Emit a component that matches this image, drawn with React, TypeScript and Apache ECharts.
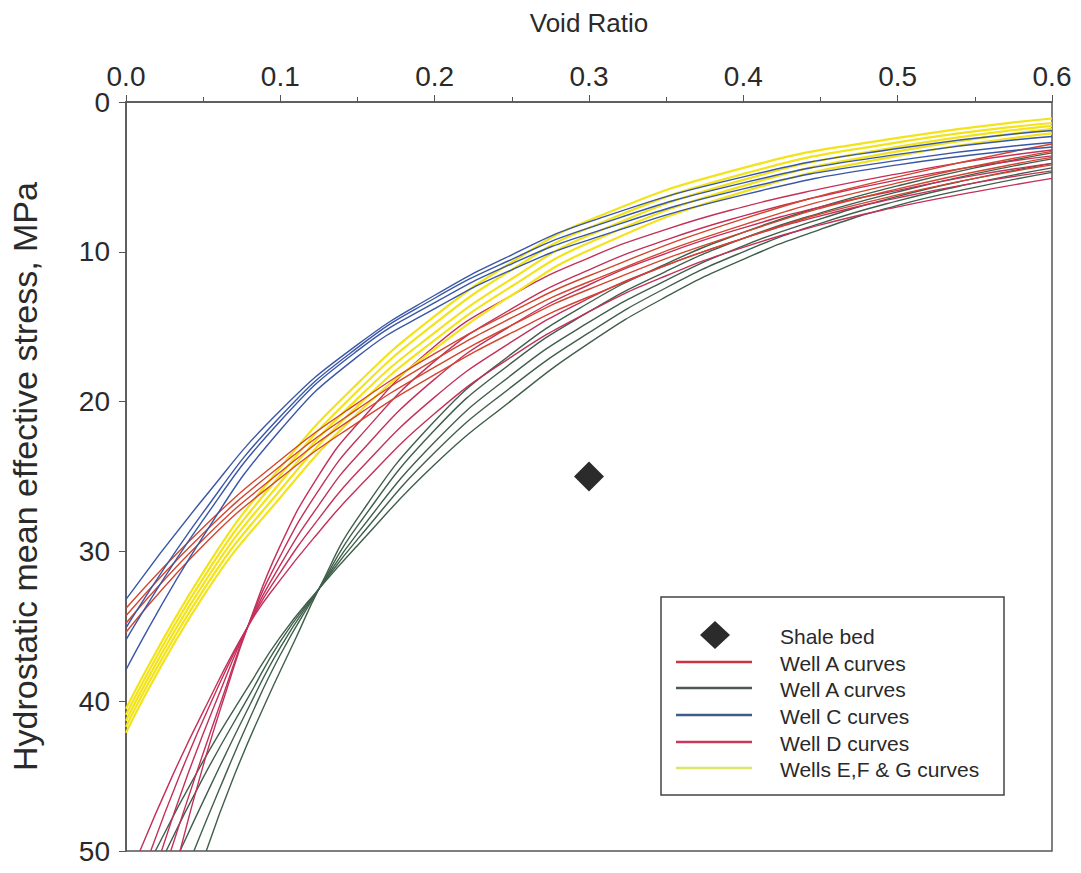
import React, { useEffect, useRef } from "react";
import * as echarts from "echarts";

// ---- data: [void ratio, stress MPa] ----
const wellARed: number[][][] = [
  [[0, 33.8], [0.05, 28.4], [0.1, 23.9], [0.15, 20.1], [0.2, 16.8], [0.25, 14.0], [0.3, 11.6], [0.4, 7.8], [0.5, 5.0], [0.6, 2.8]],
  [[0, 34.3], [0.05, 28.8], [0.1, 24.3], [0.15, 20.5], [0.2, 17.2], [0.25, 14.4], [0.3, 12.0], [0.4, 8.2], [0.5, 5.4], [0.6, 3.3]],
  [[0, 34.8], [0.05, 29.2], [0.1, 24.7], [0.15, 20.9], [0.2, 17.7], [0.25, 14.9], [0.3, 12.5], [0.4, 8.7], [0.5, 5.8], [0.6, 3.7]],
  [[0, 35.4], [0.05, 29.6], [0.1, 25.1], [0.15, 21.4], [0.2, 18.2], [0.25, 15.4], [0.3, 13.0], [0.4, 9.1], [0.5, 6.2], [0.6, 4.2]],
];

const wellAGreen: number[][][] = [
  [[0.019, 50], [0.05, 44.0], [0.08, 38.9], [0.1, 35.7], [0.125, 32.5], [0.15, 29.6], [0.2, 24.2], [0.25, 19.9], [0.3, 16.1], [0.35, 13.0], [0.4, 10.5], [0.45, 8.5], [0.5, 6.9], [0.55, 5.7], [0.6, 4.7]],
  [[0.026, 50], [0.05, 45.1], [0.08, 39.6], [0.1, 36.0], [0.125, 32.5], [0.15, 29.2], [0.2, 23.4], [0.25, 19.0], [0.3, 15.4], [0.35, 12.4], [0.4, 10.0], [0.45, 8.1], [0.5, 6.6], [0.55, 5.4], [0.6, 4.4]],
  [[0.035, 50], [0.055, 45.6], [0.08, 40.3], [0.1, 36.4], [0.125, 32.5], [0.15, 28.8], [0.2, 22.7], [0.25, 18.2], [0.3, 14.7], [0.35, 11.9], [0.4, 9.6], [0.45, 7.8], [0.5, 6.3], [0.55, 5.1], [0.6, 4.1]],
  [[0.044, 50], [0.06, 46.0], [0.08, 41.2], [0.1, 36.9], [0.125, 32.5], [0.15, 28.3], [0.2, 21.9], [0.25, 17.4], [0.3, 14.0], [0.35, 11.3], [0.4, 9.1], [0.45, 7.4], [0.5, 6.0], [0.55, 4.8], [0.6, 3.8]],
  [[0.052, 50], [0.07, 45.0], [0.09, 40.2], [0.11, 35.8], [0.125, 32.5], [0.15, 27.8], [0.2, 21.3], [0.25, 16.8], [0.3, 13.4], [0.35, 10.8], [0.4, 8.7], [0.45, 7.0], [0.5, 5.6], [0.55, 4.4], [0.6, 3.4]],
];

const wellC: number[][][] = [
  [[0, 33.2], [0.05, 26.5], [0.1, 20.6], [0.15, 16.2], [0.2, 12.9], [0.25, 10.2], [0.3, 8.0], [0.4, 5.0], [0.5, 3.1], [0.6, 1.9]],
  [[0, 35.1], [0.05, 27.4], [0.1, 21.0], [0.15, 16.4], [0.2, 13.1], [0.25, 10.5], [0.3, 8.4], [0.4, 5.4], [0.5, 3.5], [0.6, 2.3]],
  [[0, 35.9], [0.05, 27.9], [0.1, 21.3], [0.15, 16.6], [0.2, 13.4], [0.25, 10.8], [0.3, 8.8], [0.4, 5.8], [0.5, 3.9], [0.6, 2.7]],
  [[0, 37.9], [0.05, 29.0], [0.1, 21.9], [0.15, 17.0], [0.2, 13.8], [0.25, 11.2], [0.3, 9.2], [0.4, 6.2], [0.5, 4.2], [0.6, 3.0]],
];

const wellD: number[][][] = [
  [[0.009, 50], [0.03, 45.0], [0.05, 40.7], [0.079, 35.0], [0.1, 31.9], [0.125, 28.7], [0.15, 25.8], [0.2, 20.8], [0.25, 17.0], [0.3, 14.0], [0.35, 11.6], [0.4, 9.7], [0.45, 8.2], [0.5, 7.0], [0.55, 6.0], [0.6, 5.1]],
  [[0.016, 50], [0.035, 44.9], [0.055, 40.1], [0.079, 35.0], [0.1, 31.4], [0.125, 27.8], [0.15, 24.7], [0.2, 19.7], [0.25, 16.0], [0.3, 13.1], [0.35, 10.9], [0.4, 9.1], [0.45, 7.6], [0.5, 6.4], [0.55, 5.4], [0.6, 4.6]],
  [[0.023, 50], [0.04, 44.9], [0.06, 39.6], [0.079, 35.0], [0.1, 30.9], [0.125, 26.9], [0.15, 23.6], [0.2, 18.5], [0.25, 14.9], [0.3, 12.2], [0.35, 10.1], [0.4, 8.4], [0.45, 7.0], [0.5, 5.9], [0.55, 4.9], [0.6, 4.1]],
  [[0.029, 50], [0.045, 45.0], [0.062, 39.9], [0.079, 35.0], [0.1, 30.3], [0.125, 25.9], [0.15, 22.5], [0.2, 17.3], [0.25, 13.8], [0.3, 11.2], [0.35, 9.2], [0.4, 7.6], [0.45, 6.3], [0.5, 5.2], [0.55, 4.3], [0.6, 3.6]],
  [[0.035, 50], [0.05, 44.3], [0.065, 39.3], [0.079, 35.0], [0.1, 29.6], [0.125, 24.9], [0.15, 21.5], [0.2, 16.3], [0.25, 12.9], [0.3, 10.4], [0.35, 8.5], [0.4, 7.0], [0.45, 5.8], [0.5, 4.8], [0.55, 3.9], [0.6, 3.2]],
];

const wellsEFG: number[][][] = [
  [[0, 40.5], [0.05, 31.4], [0.1, 24.4], [0.15, 18.8], [0.2, 14.3], [0.25, 10.7], [0.3, 7.9], [0.4, 4.4], [0.5, 2.4], [0.6, 1.1]],
  [[0, 40.9], [0.05, 31.8], [0.1, 24.9], [0.15, 19.3], [0.2, 14.8], [0.25, 11.2], [0.3, 8.4], [0.4, 4.8], [0.5, 2.7], [0.6, 1.4]],
  [[0, 41.3], [0.05, 32.2], [0.1, 25.4], [0.15, 19.8], [0.2, 15.4], [0.25, 11.8], [0.3, 8.9], [0.4, 5.2], [0.5, 3.0], [0.6, 1.6]],
  [[0, 41.7], [0.05, 32.6], [0.1, 25.9], [0.15, 20.3], [0.2, 15.9], [0.25, 12.3], [0.3, 9.4], [0.4, 5.6], [0.5, 3.3], [0.6, 1.8]],
  [[0, 42.1], [0.05, 33.0], [0.1, 26.4], [0.15, 20.8], [0.2, 16.5], [0.25, 12.9], [0.3, 9.9], [0.4, 6.0], [0.5, 3.6], [0.6, 2.1]],
];

const shaleBed: number[][] = [[0.3, 25]];

const legendLabels = ["Shale bed", "Well A curves", "Well A curves", "Well C curves", "Well D curves", "Wells E,F & G curves"];
const legendColors = ["#2b2b2b", "#c8373f", "#4c5a52", "#3d5c8a", "#c8385a", "#dfe46a"];

const FONT = "'Liberation Sans', Arial, Helvetica, sans-serif";

export default function App() {
  const ref = useRef<HTMLDivElement>(null);

  useEffect(() => {
    if (!ref.current) return;
    const chart = echarts.init(ref.current, undefined, { renderer: "svg" });

    const groups = [
      { name: "Well A curves", color: "#3f5f4a", curves: wellAGreen, width: 1.4 },
      { name: "Well D curves", color: "#c3305a", curves: wellD, width: 1.4 },
      { name: "Wells E,F & G curves", color: "#f2e31a", curves: wellsEFG, width: 2.2 },
      { name: "Well A curves", color: "#d2452f", curves: wellARed, width: 1.4 },
      { name: "Well C curves", color: "#3a57a6", curves: wellC, width: 1.4 },
    ];

    const series: any[] = [];
    groups.forEach((g, gi) => {
      g.curves.forEach((c) => {
        series.push({
          type: "line",
          name: g.name,
          data: c,
          showSymbol: false,
          symbol: "none",
          smooth: 0.5,
          clip: true,
          silent: true,
          z: 2 + gi,
          lineStyle: { color: g.color, width: g.width },
        });
      });
    });
    series.push({
      type: "scatter",
      name: legendLabels[0],
      data: shaleBed,
      symbol: "diamond",
      symbolSize: [30, 30],
      itemStyle: { color: legendColors[0], opacity: 1 },
      z: 10,
    });

    // legend drawn as graphic (two entries share a name)
    const lx = 661, ly = 597;
    const rowY = [635, 662, 688, 715, 742, 768];
    const graphic: any[] = [
      {
        type: "rect",
        shape: { x: lx, y: ly, width: 343, height: 198 },
        style: { fill: "#fff", stroke: "#444", lineWidth: 1.5 },
        z: 20,
      },
      {
        type: "polygon",
        shape: { points: [[715, rowY[0] - 14], [730, rowY[0]], [715, rowY[0] + 14], [700, rowY[0]]] },
        style: { fill: legendColors[0] },
        z: 21,
      },
    ];
    legendLabels.forEach((t, i) => {
      if (i > 0) {
        graphic.push({
          type: "line",
          shape: { x1: 676, y1: rowY[i], x2: 752, y2: rowY[i] },
          style: { stroke: legendColors[i], lineWidth: 2.5 },
          z: 21,
        });
      }
      graphic.push({
        type: "text",
        x: 780,
        y: rowY[i] + 1,
        style: { text: t, fontSize: 21, fontFamily: FONT, fill: "#2a2a2a", verticalAlign: "middle", align: "left" },
        z: 21,
      });
    });

    chart.setOption({
      animation: false,
      backgroundColor: "#fff",
      grid: {
        left: 126,
        top: 102,
        width: 926,
        height: 749,
        show: true,
        borderColor: "#555",
        borderWidth: 1.5,
        backgroundColor: "transparent",
        containLabel: false,
        outerBoundsMode: "none",
      },
      xAxis: {
        type: "value",
        position: "top",
        min: 0,
        max: 0.6,
        interval: 0.1,
        name: "Void Ratio",
        nameLocation: "middle",
        nameGap: 66,
        nameTextStyle: { fontSize: 26, fontFamily: FONT, color: "#2a2a2a" },
        axisLine: { show: true, lineStyle: { color: "#555", width: 1.5 } },
        axisTick: { show: true, inside: false, length: 7, lineStyle: { color: "#555" } },
        minorTick: { show: true, splitNumber: 2, length: 5, lineStyle: { color: "#555" } },
        splitLine: { show: false },
        minorSplitLine: { show: false },
        axisLabel: {
          fontSize: 28,
          fontFamily: FONT,
          color: "#2a2a2a",
          margin: 12,
          formatter: (v: number) => v.toFixed(1),
        },
      },
      yAxis: {
        type: "value",
        inverse: true,
        min: 0,
        max: 50,
        interval: 10,
        name: "Hydrostatic mean effective stress, MPa",
        nameLocation: "middle",
        nameGap: 84,
        nameTextStyle: { fontSize: 34, fontFamily: FONT, color: "#2a2a2a" },
        axisLine: { show: true, lineStyle: { color: "#555", width: 1.5 } },
        axisTick: { show: true, inside: false, length: 7, lineStyle: { color: "#555" } },
        splitLine: { show: false },
        axisLabel: { fontSize: 28, fontFamily: FONT, color: "#2a2a2a", margin: 16 },
      },
      series,
      graphic,
    });

    return () => chart.dispose();
  }, []);

  return (
    <div
      ref={ref}
      style={{ position: "fixed", left: 0, top: 0, width: 1081, height: 873, background: "#fff" }}
    />
  );
}
